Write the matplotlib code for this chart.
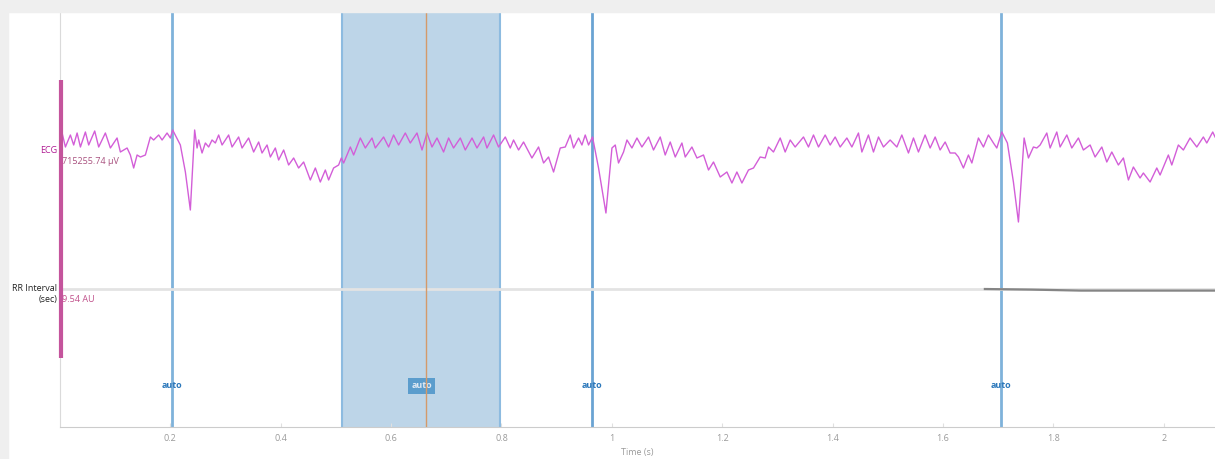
import matplotlib.pyplot as plt
from matplotlib.patches import Rectangle

plt.rcParams['font.family'] = ['Open Sans', 'DejaVu Sans']

# ECG trace (time in s, amplitude in display units)
ecg_t = [0.0038, 0.0098, 0.0188, 0.0248, 0.0310, 0.0370, 0.0460, 0.0520, 0.0629, 0.0701,
         0.0822, 0.0913, 0.1034, 0.1094, 0.1216, 0.1275, 0.1335, 0.1397, 0.1457, 0.1547,
         0.1638, 0.1697, 0.1788, 0.1850, 0.1940, 0.2000, 0.2042, 0.2181, 0.2272, 0.2362,
         0.2440, 0.2484, 0.2513, 0.2574, 0.2634, 0.2694, 0.2755, 0.2815, 0.2875, 0.2937,
         0.3056, 0.3118, 0.3237, 0.3299, 0.3418, 0.3509, 0.3600, 0.3661, 0.3752, 0.3812,
         0.3902, 0.3962, 0.4053, 0.4143, 0.4234, 0.4324, 0.4415, 0.4536, 0.4627, 0.4717,
         0.4808, 0.4868, 0.4958, 0.5049, 0.5098, 0.5140, 0.5261, 0.5321, 0.5442, 0.5533,
         0.5654, 0.5714, 0.5864, 0.5955, 0.6045, 0.6136, 0.6257, 0.6348, 0.6469, 0.6560,
         0.6650, 0.6741, 0.6832, 0.6951, 0.7042, 0.7132, 0.7254, 0.7344, 0.7466, 0.7556,
         0.7676, 0.7737, 0.7857, 0.7947, 0.8069, 0.8159, 0.8219, 0.8310, 0.8400, 0.8552,
         0.8672, 0.8763, 0.8853, 0.8944, 0.9065, 0.9156, 0.9246, 0.9306, 0.9397, 0.9458,
         0.9518, 0.9578, 0.9650, 0.9759, 0.9893, 1.0002, 1.0062, 1.0121, 1.0212, 1.0274,
         1.0364, 1.0455, 1.0545, 1.0665, 1.0755, 1.0877, 1.0967, 1.1058, 1.1149, 1.1270,
         1.1330, 1.1451, 1.1542, 1.1661, 1.1752, 1.1842, 1.1964, 1.2085, 1.2176, 1.2266,
         1.2357, 1.2476, 1.2567, 1.2688, 1.2779, 1.2839, 1.2929, 1.3051, 1.3141, 1.3232,
         1.3322, 1.3473, 1.3563, 1.3654, 1.3745, 1.3866, 1.3957, 1.4047, 1.4138, 1.4259,
         1.4350, 1.4469, 1.4531, 1.4650, 1.4741, 1.4832, 1.4922, 1.5043, 1.5165, 1.5255,
         1.5375, 1.5466, 1.5556, 1.5677, 1.5768, 1.5859, 1.5949, 1.6040, 1.6130, 1.6221,
         1.6281, 1.6371, 1.6462, 1.6524, 1.6643, 1.6734, 1.6824, 1.6915, 1.6976, 1.7067,
         1.7168, 1.7277, 1.7368, 1.7471, 1.7549, 1.7639, 1.7701, 1.7761, 1.7882, 1.7942,
         1.8063, 1.8123, 1.8245, 1.8335, 1.8455, 1.8545, 1.8667, 1.8757, 1.8879, 1.8969,
         1.9060, 1.9179, 1.9270, 1.9361, 1.9451, 1.9572, 1.9632, 1.9754, 1.9875, 1.9935,
         2.0085, 2.0147, 2.0266, 2.0357, 2.0478, 2.0600, 2.0719, 2.0781, 2.0889, 2.0931]
ecg_v = [7, -7, 5, -5, 7, -7, 8, -5, 9, -7,
         7, -8, 2, -12, -8, -15, -28, -15, -17, -15,
         3, 0, 5, 0, 7, 2, 10, -5, -32, -70,
         10, -8, 0, -13, -3, -7, 0, -3, 5, -5,
         5, -7, 3, -8, 2, -12, -2, -13, -5, -17,
         -8, -20, -10, -25, -18, -28, -22, -40, -28, -42,
         -30, -40, -28, -25, -18, -23, -7, -15, 2, -8,
         2, -8, 3, -7, 5, -5, 7, -3, 7, -10,
         7, -7, 2, -12, 2, -8, 2, -10, 2, -8,
         3, -8, 5, -7, 3, -8, 0, -10, -2, -18,
         -7, -23, -17, -32, -8, -7, 5, -8, 2, -5,
         5, -5, 3, -28, -73, -8, -5, -23, -12, 0,
         -8, 2, -7, 3, -10, 3, -15, -2, -17, -3,
         -17, -7, -18, -15, -30, -22, -37, -32, -43, -32,
         -43, -30, -28, -17, -18, -7, -12, 2, -12, 0,
         -7, 3, -7, 5, -7, 5, -5, 3, -7, 2,
         -7, 7, -12, 5, -12, 3, -7, 0, -7, 5,
         -13, 2, -12, 5, -8, 3, -10, -2, -13, -13,
         -17, -28, -15, -23, 2, -7, 5, -3, -8, 8,
         -3, -42, -82, 2, -18, -7, -8, -5, 7, -8,
         8, -7, 5, -8, 2, -10, -5, -17, -7, -22,
         -12, -25, -18, -40, -27, -38, -33, -42, -28, -35,
         -15, -25, -5, -10, 2, -7, 3, -3, 8, 3]

# RR interval channel
rr_t = [1.676, 1.760, 1.850, 2.093]
rr_v = [0.0, -0.6, -1.6, -1.6]
rr_offset = -149

# detected beats and selection
beats = [0.2035, 0.9645, 1.705]
sel_start, sel_end = 0.511, 0.798
cursor = 0.664
xticks = [0.2, 0.4, 0.6, 0.8, 1.0, 1.2, 1.4, 1.6, 1.8, 2.0]
xlabels = ['0.2', '0.4', '0.6', '0.8', '1', '1.2', '1.4', '1.6', '1.8', '2']

W, H = 1215, 459
fig = plt.figure(figsize=(W / 100, H / 100), dpi=100)
fig.patches.append(Rectangle((0, 447 / H), 1, 12 / H, transform=fig.transFigure,
                             color='#efefef', zorder=0))
fig.patches.append(Rectangle((0, 0), 8 / W, 447 / H, transform=fig.transFigure,
                             color='#efefef', zorder=0))

ax = fig.add_axes([60 / W, 32 / H, 1 - 60 / W, 415 / H])
ax.set_xlim(0, 2.093)
ax.set_ylim(-287, 128)

ax.axvspan(sel_start, sel_end, color='#bdd5e8', zorder=1, lw=0)
for x in (sel_start, sel_end):
    ax.axvline(x, color='#8dbbe0', lw=1.5, zorder=2)
for i, b in enumerate(beats):
    ax.axvline(b, color='#7fb2da' if i != 1 else '#6aa3d3', lw=2, zorder=2)
ax.axvline(cursor, color='#d49a6a', lw=1.0, zorder=4)

# channel baseline for RR interval
ax.axhline(rr_offset, color='#e3e3e3', lw=2, zorder=2)
ax.plot(rr_t, [v + rr_offset for v in rr_v], color='#858585', lw=1.6, zorder=3)

ax.plot(ecg_t, ecg_v, color='#d35ed8', lw=1.0, zorder=3)

# channel labels
ax.text(-0.005, -11, 'ECG', color='#b01c93', fontsize=6.5, ha='right', va='center')
ax.text(0.004, -22, '715255.74 µV', color='#a8507e', fontsize=6.5, ha='left', va='center')
ax.text(-0.005, rr_offset - 5, 'RR Interval\n(sec)', color='#222222', fontsize=6.5,
        ha='right', va='center', linespacing=1.3)
ax.text(0.004, rr_offset - 11, '9.54 AU', color='#c0508a', fontsize=6.5, ha='left',
        va='center')
ax.plot([0.002, 0.002], [60, -218], color='#c4549c', lw=3, solid_capstyle='butt',
        zorder=5, clip_on=False)

# beat annotations
for i, b in enumerate(beats):
    ax.text(b, -246, 'auto', color='#2c78bb', fontsize=6.5, fontweight='bold',
            ha='center', va='center', zorder=6)
ax.text(0.655, -246, 'auto', color='#dfe9f3', fontsize=6.5, fontweight='bold',
        ha='center', va='center', zorder=3,
        bbox=dict(boxstyle='square,pad=0.35', fc='#5b9dcd', ec='none'))

for s in ('top', 'right'):
    ax.spines[s].set_visible(False)
ax.spines['left'].set_color('#dadada')
ax.spines['bottom'].set_color('#cccccc')
ax.set_yticks([])
ax.set_xticks(xticks)
ax.set_xticklabels(xlabels)
ax.tick_params(axis='x', colors='#e0e0e0', labelcolor='#9a9a9a', labelsize=6.5,
               length=3, direction='in', pad=5)
ax.set_xlabel('Time (s)', color='#9a9a9a', fontsize=6.5, labelpad=4)

fig.savefig('out.png', dpi=100)
